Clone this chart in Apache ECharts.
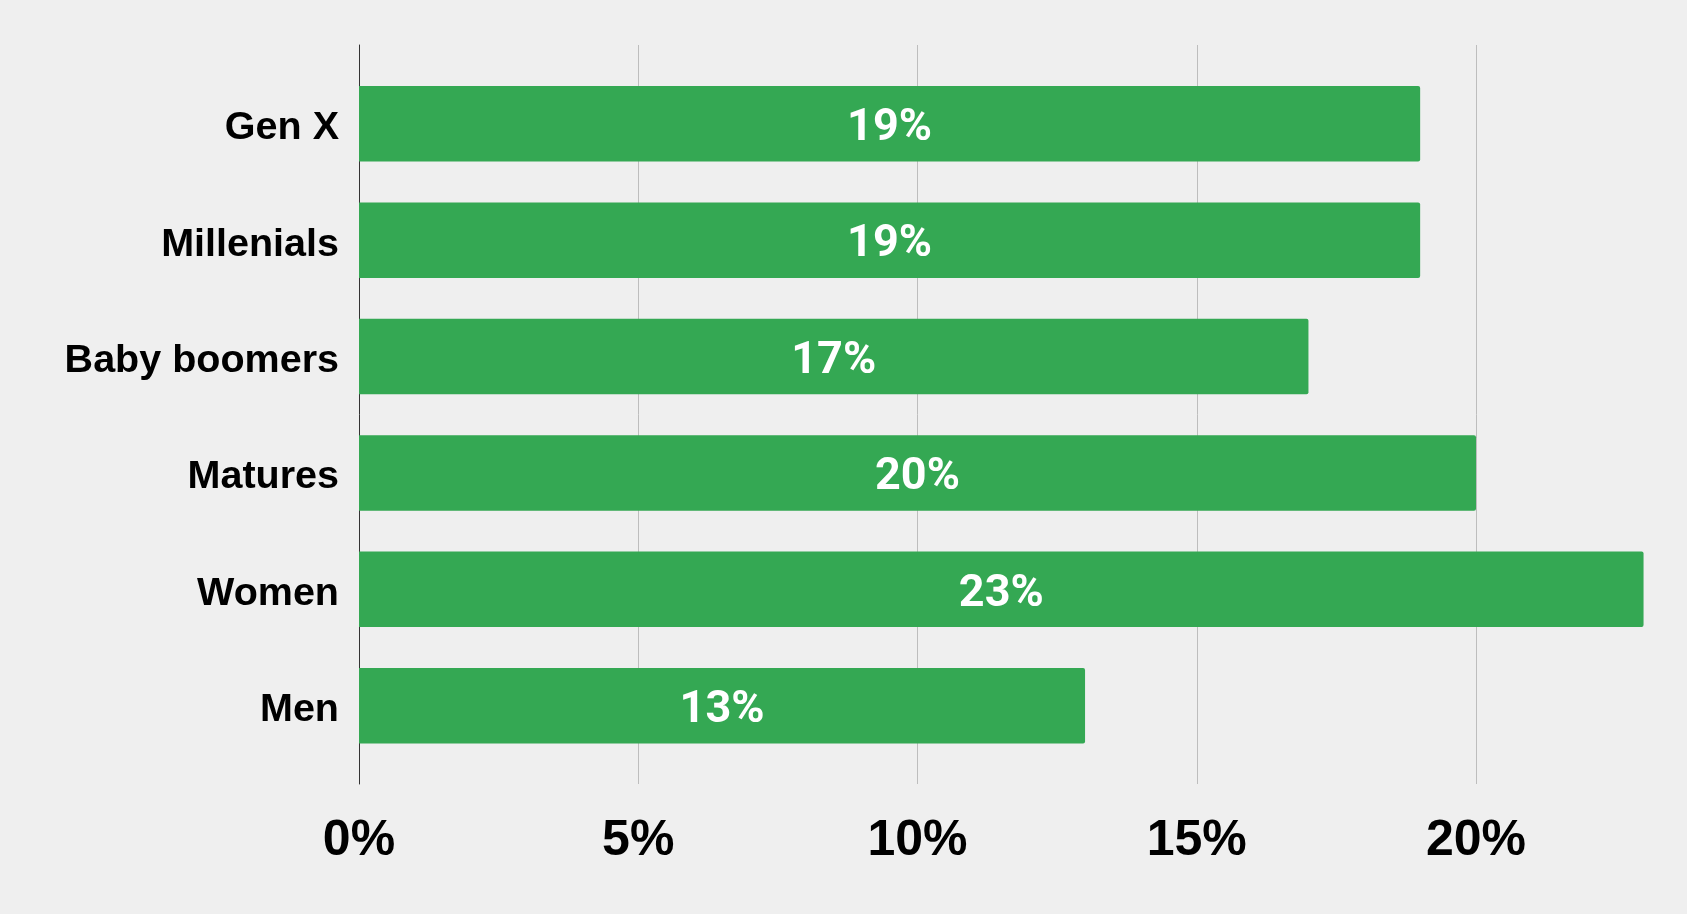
<!DOCTYPE html>
<html>
<head>
    <meta charset="utf-8">
    <title>ECharts</title>
    <script src="https://cdn.jsdelivr.net/npm/echarts@6/dist/echarts.min.js"></script>
    <style>
        html, body { margin: 0; padding: 0; background: #efefef; }
    </style>
</head>
<body>
    <div id="main" style="width: 1687px;height:914px;"></div>
    <script type="text/javascript">
        // categories from top to bottom
        var categories = ['Gen X', 'Millenials', 'Baby boomers', 'Matures', 'Women', 'Men'];
        var values = [19, 19, 17, 20, 23, 13];
        var tickValues = [0, 5, 10, 15, 20];

        var myChart = echarts.init(document.getElementById('main'));

        var plotLeft = 359;
        var pxPerPct = 55.85;
        var plotWidth = 1687 - plotLeft;        // axis runs to the right edge
        var axisMax = plotWidth / pxPerPct;     // ~23.78%

        option = {
            backgroundColor: '#efefef',
            animation: false,
            grid: [
                // bars
                { left: plotLeft, width: plotWidth, top: 65.6, height: 698.3 },
                // frame: y axis line, vertical grid lines, tick labels
                { left: plotLeft, width: plotWidth, top: 45, height: 739 }
            ],
            xAxis: [
                {
                    gridIndex: 0, type: 'value', min: 0, max: axisMax, interval: 5,
                    axisLine: { show: false }, axisTick: { show: false },
                    axisLabel: { show: false }, splitLine: { show: false }
                },
                {
                    gridIndex: 1, type: 'value', min: 0, max: axisMax, interval: 5,
                    axisLine: { show: false }, axisTick: { show: false },
                    splitLine: {
                        show: true, showMaxLine: false,
                        lineStyle: { color: '#bdbdbd', width: 1 }
                    },
                    axisLabel: {
                        margin: 32,
                        color: '#000',
                        fontFamily: 'Liberation Sans',
                        fontWeight: 'bold',
                        fontSize: 50,
                        showMaxLabel: false,
                        formatter: function (v) {
                            return tickValues.indexOf(v) >= 0 ? v + '%' : '';
                        }
                    }
                }
            ],
            yAxis: [
                {
                    gridIndex: 0, type: 'category', inverse: true,
                    data: categories,
                    axisLine: { show: false }, axisTick: { show: false },
                    axisLabel: {
                        margin: 20,
                        color: '#000',
                        fontFamily: 'Liberation Sans',
                        fontWeight: 'bold',
                        fontSize: 39.5,
                        // small line box hung from the band centre nudges the text down a little
                        verticalAlign: 'top',
                        lineHeight: 9
                    }
                },
                {
                    gridIndex: 1, type: 'value', min: 0, max: 1,
                    axisLine: { show: true, onZero: false, lineStyle: { color: '#333', width: 1 } },
                    axisTick: { show: false }, axisLabel: { show: false },
                    splitLine: { show: false }
                }
            ],
            series: [
                {
                    type: 'bar',
                    xAxisIndex: 0,
                    yAxisIndex: 0,
                    data: values,
                    barCategoryGap: '35.2%',
                    itemStyle: { color: '#34a853', borderRadius: [0, 2, 2, 0] },
                    label: {
                        show: true,
                        position: 'inside',
                        offset: [0, 5],
                        color: '#fff',
                        fontFamily: 'Roboto',
                        fontWeight: 'bold',
                        fontSize: 45,
                        formatter: '{c}%'
                    }
                }
            ]
        };
        myChart.setOption(option);
    </script>
</body>
</html>
